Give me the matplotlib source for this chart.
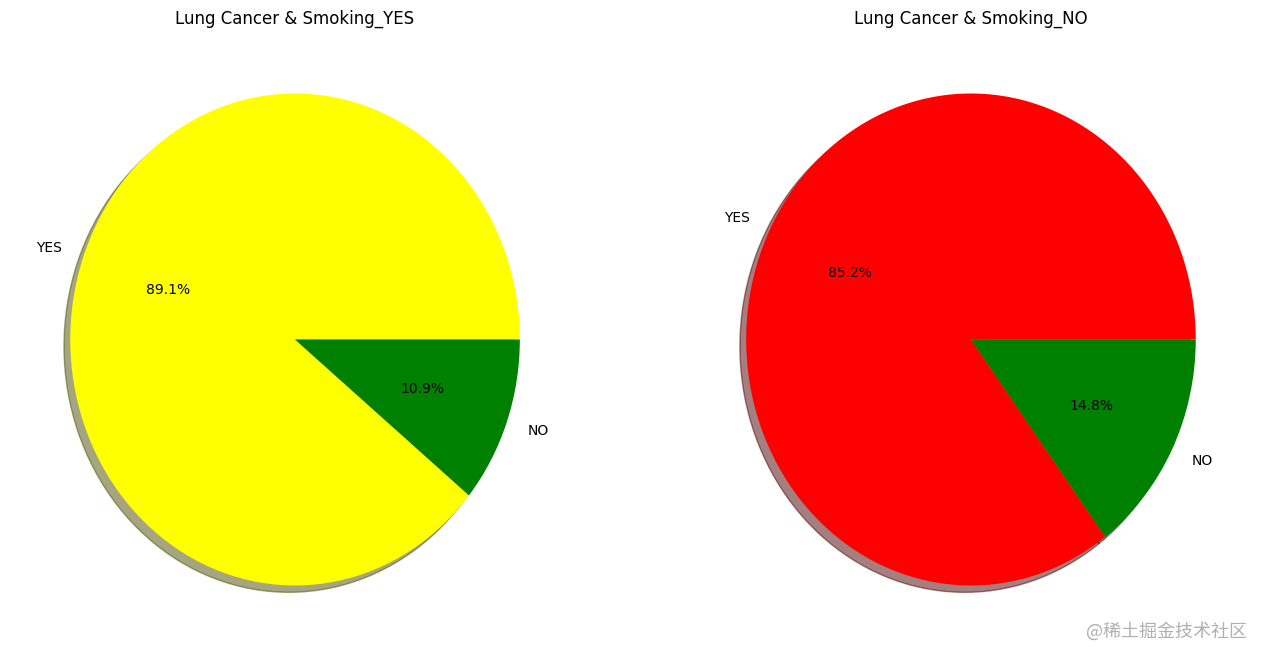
import matplotlib.pyplot as plt

# Lung cancer by smoking status
labels = ["YES", "NO"]
smoking_yes = [155, 19]
smoking_no = [115, 20]
colors_yes = ["yellow", "green"]
colors_no = ["red", "green"]

fig = plt.figure(figsize=(12.66, 6.61), dpi=100)

# axes placed by hand so the pies come out like the reference (slightly tall)
ax1 = fig.add_axes([0.0111, 0.0212, 0.4439, 0.9304])
ax2 = fig.add_axes([0.5450, 0.0212, 0.4439, 0.9304])

ax1.pie(smoking_yes, labels=labels, colors=colors_yes, autopct="%1.1f%%", shadow=True)
ax1.set_title("Lung Cancer & Smoking_YES")
ax1.set_aspect("auto")

ax2.pie(smoking_no, labels=labels, colors=colors_no, autopct="%1.1f%%", shadow=True)
ax2.set_title("Lung Cancer & Smoking_NO")
ax2.set_aspect("auto")

fig.text(0.985, 0.045, "@稀土掘金技术社区", ha="right", va="center", fontsize=13,
         color="#b0b0b0", family=["Noto Sans CJK SC", "DejaVu Sans"])

fig.savefig("out.png", dpi=100)
